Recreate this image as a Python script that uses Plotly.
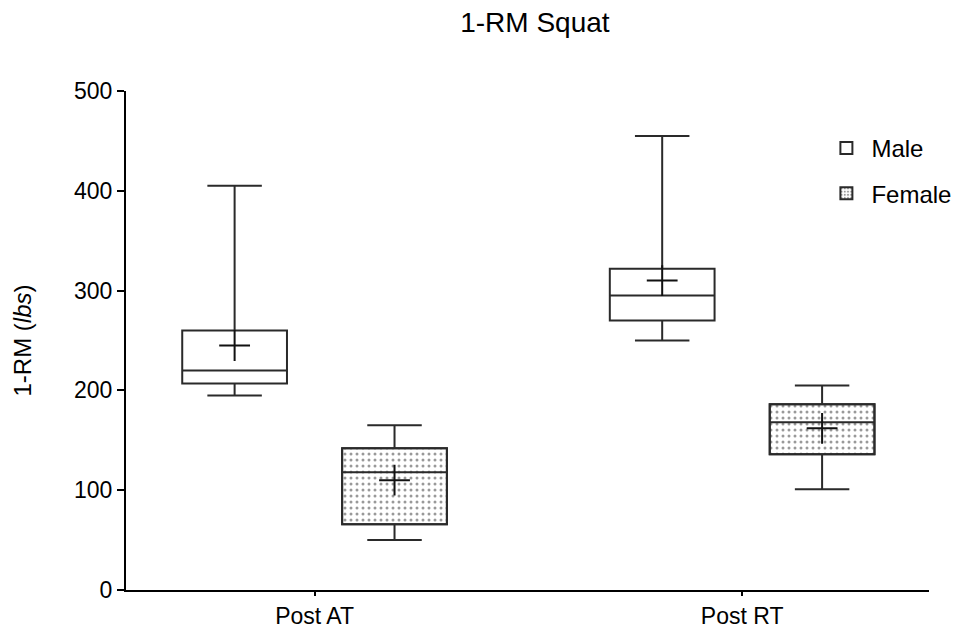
import plotly.graph_objects as go

categories = ["Post AT", "Post RT"]
groups = ["Male", "Female"]

male_min = [195, 250]
male_q1 = [207, 270]
male_median = [220, 295]
male_q3 = [260, 322]
male_max = [405, 455]
male_mean = [245, 310]

female_min = [50, 101]
female_q1 = [66, 136]
female_median = [118, 168]
female_q3 = [142, 186]
female_max = [165, 205]
female_mean = [110, 162]

y_ticks = [0, 100, 200, 300, 400, 500]

OFFSET = 0.187
BOXW = 0.245
LINE = "#2a2a2a"
FONT = "Liberation Sans, Arial, Helvetica, sans-serif"
PATTERN = dict(shape=".", fgcolor="#333", bgcolor="white", size=6, solidity=0.2)

idx = list(range(len(categories)))
male_x = [i - OFFSET for i in idx]
female_x = [i + OFFSET for i in idx]

fig = go.Figure()

# patterned fill for female boxes (bar from q1 to q3)
fig.add_trace(go.Bar(
    x=female_x, base=female_q1,
    y=[q3 - q1 for q1, q3 in zip(female_q1, female_q3)],
    width=BOXW, name="Female", showlegend=False,
    marker=dict(color="white", line=dict(color=LINE, width=2), pattern=PATTERN),
    hoverinfo="skip",
))

fig.add_trace(go.Box(
    x=male_x, q1=male_q1, median=male_median, q3=male_q3,
    lowerfence=male_min, upperfence=male_max,
    width=BOXW, whiskerwidth=0.52, fillcolor="white",
    line=dict(color=LINE, width=2), name="Male", showlegend=False,
))
fig.add_trace(go.Box(
    x=female_x, q1=female_q1, median=female_median, q3=female_q3,
    lowerfence=female_min, upperfence=female_max,
    width=BOXW, whiskerwidth=0.52, fillcolor="rgba(0,0,0,0)",
    line=dict(color=LINE, width=2), name="Female", showlegend=False,
))

# means
fig.add_trace(go.Scatter(
    x=male_x + female_x, y=male_mean + female_mean, mode="markers",
    marker=dict(symbol="cross-thin", size=22, line=dict(color="#111", width=2)),
    showlegend=False, hoverinfo="skip",
))

# legend entries
fig.add_trace(go.Bar(
    x=[None], y=[None], name=groups[0], legendgroup="m",
    marker=dict(color="white", line=dict(color=LINE, width=2)),
))
fig.add_trace(go.Bar(
    x=[None], y=[None], name=groups[1], legendgroup="f",
    marker=dict(color="white", line=dict(color=LINE, width=2),
                pattern=dict(shape=".", fgcolor="#333", bgcolor="white", size=4, solidity=0.3)),
))

fig.update_layout(
    width=969, height=631,
    margin=dict(l=126, r=27, t=91, b=41),
    paper_bgcolor="white", plot_bgcolor="white",
    font=dict(family=FONT, size=23, color="black"),
    title=dict(text="1-RM Squat", x=0.552, xanchor="center", y=0.965, yanchor="middle",
               font=dict(size=28, family=FONT, color="black")),
    showlegend=True,
    legend=dict(x=0.866, y=0.93, xanchor="left", yanchor="top",
                font=dict(size=24, family=FONT), bgcolor="rgba(0,0,0,0)",
                itemwidth=40, tracegroupgap=11, traceorder="grouped"),
    barmode="overlay",
)

fig.update_xaxes(
    range=[-0.441, 1.437], tickvals=idx, ticktext=categories,
    showline=True, linecolor="black", linewidth=2,
    ticks="outside", ticklen=4, tickwidth=2, tickcolor="black",
    showgrid=False, zeroline=False, automargin=False,
    tickfont=dict(size=23, family=FONT),
)
fig.update_yaxes(
    range=[0, 500], tickvals=y_ticks,
    showline=True, linecolor="black", linewidth=2,
    ticks="outside", ticklen=7, tickwidth=2, tickcolor="black",
    showgrid=False, zeroline=False, automargin=True,
    tickfont=dict(size=23, family=FONT),
    title=dict(text="1-RM (<i>lbs</i>)", font=dict(size=24, family=FONT), standoff=36),
)

fig.write_html("out.html")
